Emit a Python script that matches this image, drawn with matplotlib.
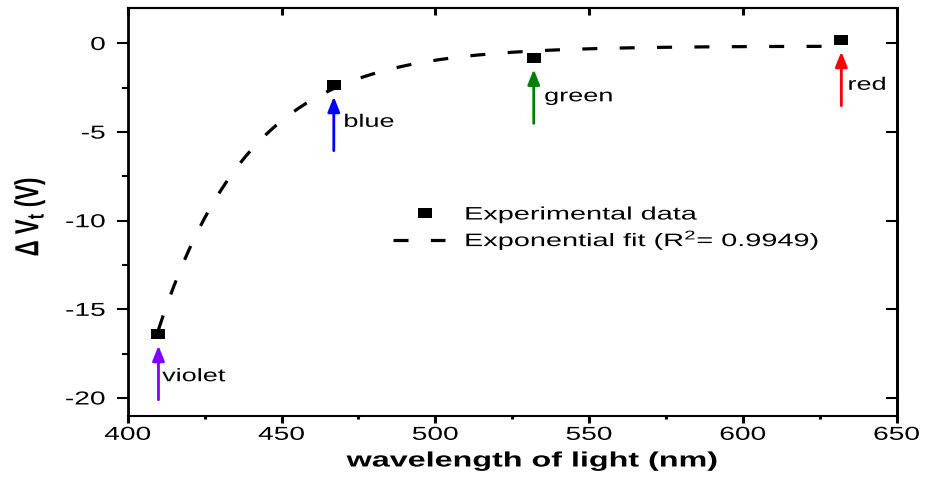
import numpy as np
import matplotlib
matplotlib.use("Agg")
import matplotlib.pyplot as plt
from matplotlib import patheffects
from matplotlib.transforms import Affine2D
from matplotlib.path import Path
from matplotlib.ticker import MultipleLocator
from matplotlib.legend_handler import HandlerLine2D

# ---- data -------------------------------------------------------------
wavelength_nm = [410, 467, 532, 632]
delta_vt = [-16.4, -2.35, -0.81, 0.19]
colour_names = ["violet", "blue", "green", "red"]
arrow_colours = ["#8000ff", "#0000ff", "#008000", "#ff0000"]

# exponential fit: dVt = y0 + A * exp(-(lambda - x0) / tau)
fit_x0 = 410.0
fit_y0 = -0.15
fit_amp = -16.0
fit_tau = 30.0
fit_r2 = 0.9949
fit_range = (410, 632)

x_ticks = [400, 450, 500, 550, 600, 650]
y_ticks = [0, -5, -10, -15, -20]

# ---- style ------------------------------------------------------------
plt.rcParams["font.family"] = ["Liberation Sans", "DejaVu Sans"]
plt.rcParams["axes.unicode_minus"] = False
plt.rcParams["mathtext.fontset"] = "custom"
plt.rcParams["mathtext.rm"] = "Liberation Sans"
plt.rcParams["mathtext.it"] = "Liberation Sans:italic"
plt.rcParams["mathtext.bf"] = "Liberation Sans:bold"

SX = 1.5  # horizontal widening of the lettering


class WideText(patheffects.AbstractPathEffect):
    """Draw text glyphs widened horizontally around an anchor edge."""

    def __init__(self, sx=SX, anchor="center"):
        super().__init__()
        self.sx = sx
        self.anchor = anchor

    def draw_path(self, renderer, gc, tpath, affine, rgbFace=None):
        ext = tpath.get_extents(affine)
        if self.anchor == "left":
            x0 = ext.x0
        elif self.anchor == "right":
            x0 = ext.x1
        else:
            x0 = 0.5 * (ext.x0 + ext.x1)
        t = affine + Affine2D().translate(-x0, 0).scale(self.sx, 1).translate(x0, 0)
        renderer.draw_path(gc, tpath, t, rgbFace)


class OffsetMarkerHandler(HandlerLine2D):
    """Legend handler that puts the single marker off-centre in the handle box."""

    def __init__(self, frac=0.6, **kw):
        super().__init__(**kw)
        self.frac = frac

    def create_artists(self, legend, orig_handle, xdescent, ydescent, width,
                       height, fontsize, trans):
        arts = super().create_artists(legend, orig_handle, xdescent, ydescent,
                                      width, height, fontsize, trans)
        for a in arts:
            xd = np.asarray(a.get_xdata(), float)
            if len(xd) == 3:
                xd[1] = -xdescent + self.frac * width
                a.set_xdata(xd)
        return arts


# flat rectangular marker
rect_marker = Path(
    [(-1, -0.69), (1, -0.69), (1, 0.69), (-1, 0.69), (-1, -0.69)],
    [Path.MOVETO, Path.LINETO, Path.LINETO, Path.LINETO, Path.CLOSEPOLY],
)

W, H = 925, 485
fig = plt.figure(figsize=(W / 100, H / 100), dpi=100)
ax = fig.add_axes([127.7 / W, 1 - 416.7 / H, 769.0 / W, 407.7 / H])

ax.set_xlim(400, 650)
ax.set_ylim(-21, 2)

# fit curve
xf = np.linspace(fit_range[0], fit_range[1], 400)
yf = fit_y0 + fit_amp * np.exp(-(xf - fit_x0) / fit_tau)
fit_line, = ax.plot(xf, yf, color="black", lw=2.3, dashes=(4.7, 7.0), zorder=2)

# experimental points
data_line, = ax.plot(wavelength_nm, delta_vt, ls="none", marker=rect_marker,
                     ms=9.6, mew=0, color="black", zorder=3)

# arrows and colour labels
ARROW_GAP = 0.65
ARROW_LEN = 3.05
label_offsets = [(1.2, -2.4), (3.3, -2.1), (3.5, -2.2), (2.2, -2.55)]
for x, y, name, c, (dx, dy) in zip(wavelength_nm, delta_vt, colour_names,
                                   arrow_colours, label_offsets):
    tip = y - ARROW_GAP
    ax.annotate("", xy=(x, tip), xytext=(x, tip - ARROW_LEN),
                arrowprops=dict(arrowstyle="-|>,head_length=0.45,head_width=0.18",
                                color=c, lw=2.0, mutation_scale=20,
                                shrinkA=0, shrinkB=0), zorder=4)
    t = ax.text(x + dx, y + dy, name, ha="left", va="center", fontsize=13,
                color="black")
    t.set_path_effects([WideText(anchor="left")])

# axes styling
for side in ("left", "right"):
    ax.spines[side].set_linewidth(2.0)
for side in ("top", "bottom"):
    ax.spines[side].set_linewidth(1.5)

ax.set_xticks(x_ticks)
ax.set_yticks(y_ticks)
ax.xaxis.set_minor_locator(MultipleLocator(25))
ax.yaxis.set_minor_locator(MultipleLocator(2.5))
ax.tick_params(axis="x", which="major", direction="out", length=5, width=2.2,
               labelsize=13.5, pad=3)
ax.tick_params(axis="x", which="minor", direction="out", length=2.4, width=2.2)
ax.tick_params(axis="y", which="major", direction="out", length=8, width=1.5,
               labelsize=13.5, pad=8)
ax.tick_params(axis="y", which="minor", direction="out", length=4.3, width=1.5)

for tk in ax.xaxis.get_major_ticks():
    tk.label1.set_path_effects([WideText(anchor="center")])
for tk in ax.yaxis.get_major_ticks():
    tk.label1.set_path_effects([WideText(anchor="right")])

top = ax.secondary_xaxis("top")
top.set_xticks(x_ticks)
top.tick_params(axis="x", which="major", direction="in", length=5, width=2.2,
                labeltop=False)
top.spines["top"].set_linewidth(1.5)
right = ax.secondary_yaxis("right")
right.set_yticks(y_ticks)
right.tick_params(axis="y", which="major", direction="in", length=8, width=1.5,
                  labelright=False)
right.spines["right"].set_linewidth(2.0)

# axis titles
xl = fig.text(532.5 / W, 1 - 462 / H, "wavelength of light (nm)", ha="center",
              va="center", fontsize=15, fontweight="bold")
xl.set_path_effects([WideText(sx=1.55, anchor="center")])
yl = fig.text(30 / W, 1 - 217.5 / H, r"$\mathbf{\Delta\ V_t\ (V)}$", ha="center",
              va="center", rotation=90, fontsize=16)
yl.set_path_effects([WideText(anchor="center")])

# legend
leg = ax.legend([data_line, fit_line],
                ["Experimental data", r"Exponential fit (R$^2$= %.4f)" % fit_r2],
                handler_map={data_line: OffsetMarkerHandler(frac=0.61)},
                loc="upper left", bbox_to_anchor=(392.7 / W, 1 - 207.5 / H),
                bbox_transform=fig.transFigure, frameon=False, fontsize=13,
                handlelength=2.9, handletextpad=1.1, labelspacing=0.25,
                borderpad=0, borderaxespad=0)
for t in leg.get_texts():
    t.set_path_effects([WideText(sx=1.6, anchor="left")])

fig.savefig("out.png", dpi=100)
